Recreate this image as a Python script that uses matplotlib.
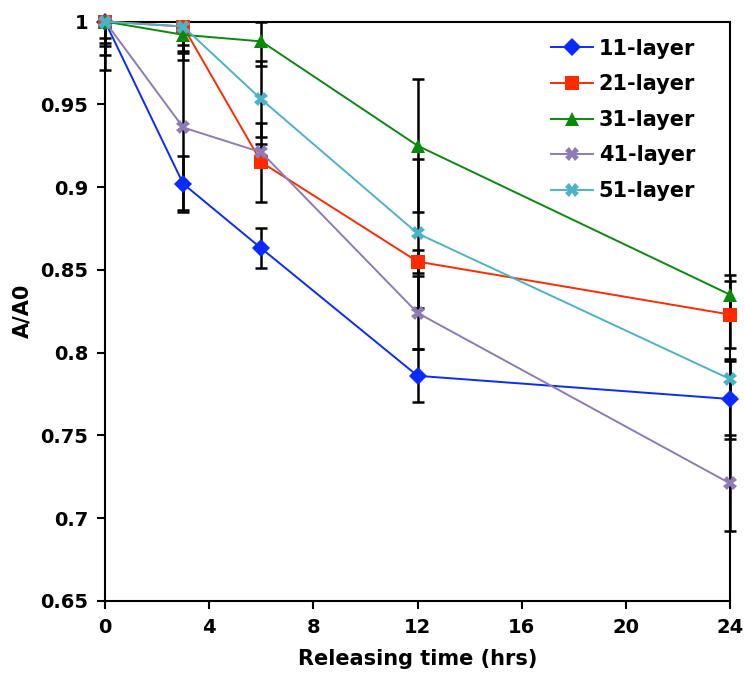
import matplotlib
matplotlib.use("Agg")
import matplotlib.pyplot as plt

time_hrs = [0, 3, 6, 12, 24]
series_names = ["11-layer", "21-layer", "31-layer", "41-layer", "51-layer"]
v11 = [1.0, 0.902, 0.863, 0.786, 0.772]
v21 = [1.0, 0.997, 0.915, 0.855, 0.823]
v31 = [1.0, 0.992, 0.988, 0.925, 0.835]
v41 = [1.0, 0.936, 0.921, 0.824, 0.721]
v51 = [1.0, 0.997, 0.953, 0.872, 0.784]
e11 = [0.029, 0.017, 0.012, 0.016, 0.024]
e21 = [0.010, 0.015, 0.024, 0.007, 0.020]
e31 = [0.013, 0.015, 0.015, 0.040, 0.012]
e41 = [0.020, 0.050, 0.005, 0.022, 0.029]
e51 = [0.015, 0.016, 0.023, 0.045, 0.011]
x_ticks = [0, 4, 8, 12, 16, 20, 24]
y_ticks = [0.65, 0.7, 0.75, 0.8, 0.85, 0.9, 0.95, 1.0]
y_ticklabels = ["0.65", "0.7", "0.75", "0.8", "0.85", "0.9", "0.95", "1"]

values = [v11, v21, v31, v41, v51]
errors = [e11, e21, e31, e41, e51]
colors = ["#0A2BFF", "#FF2A00", "#0A8A0A", "#8E7AB5", "#4BB3C9"]
markers = ["D", "s", "^", "X", "X"]
msizes = [9, 10, 10, 10, 10]

YMAX = 1.0
YMIN = 0.65

plt.rcParams['font.family'] = ['DejaVu Sans']
plt.rcParams['font.weight'] = 'bold'

fig = plt.figure(figsize=(7.45, 6.73), dpi=100)
ax = fig.add_axes([0.141, 0.107, 0.839, 0.861])

for vals, errs in zip(values, errors):
    lower = list(errs)
    upper = [min(e, YMAX - v) for v, e in zip(vals, errs)]
    ax.errorbar(time_hrs, vals, yerr=[lower, upper], fmt='none', ecolor='black',
                elinewidth=1.8, capsize=4.5, capthick=1.8, zorder=2, clip_on=False)

for name, vals, c, m, ms in zip(series_names, values, colors, markers, msizes):
    ax.plot(time_hrs, vals, color=c, marker=m, markersize=ms, linewidth=1.4,
            markeredgewidth=0, label=name, zorder=3, clip_on=False)

ax.set_xlim(0, 24)
ax.set_ylim(YMIN, YMAX)
ax.set_xticks(x_ticks)
ax.set_yticks(y_ticks)
ax.set_yticklabels(y_ticklabels)
ax.tick_params(direction='out', length=6, width=1.5, labelsize=14, pad=6)
for lab in ax.get_xticklabels() + ax.get_yticklabels():
    lab.set_fontweight('bold')
for sp in ax.spines.values():
    sp.set_linewidth(1.5)
ax.set_xlabel("Releasing time (hrs)", fontsize=15, fontweight='bold', labelpad=9)
ax.set_ylabel("A/A0", fontsize=15, fontweight='bold', labelpad=6)

leg = ax.legend(loc='upper left', bbox_to_anchor=(0.70, 0.985), frameon=False,
                handlelength=2.0, labelspacing=0.75, handletextpad=0.3,
                borderaxespad=0.0, prop={'weight': 'bold', 'size': 15})

fig.savefig("out.png", dpi=100)
